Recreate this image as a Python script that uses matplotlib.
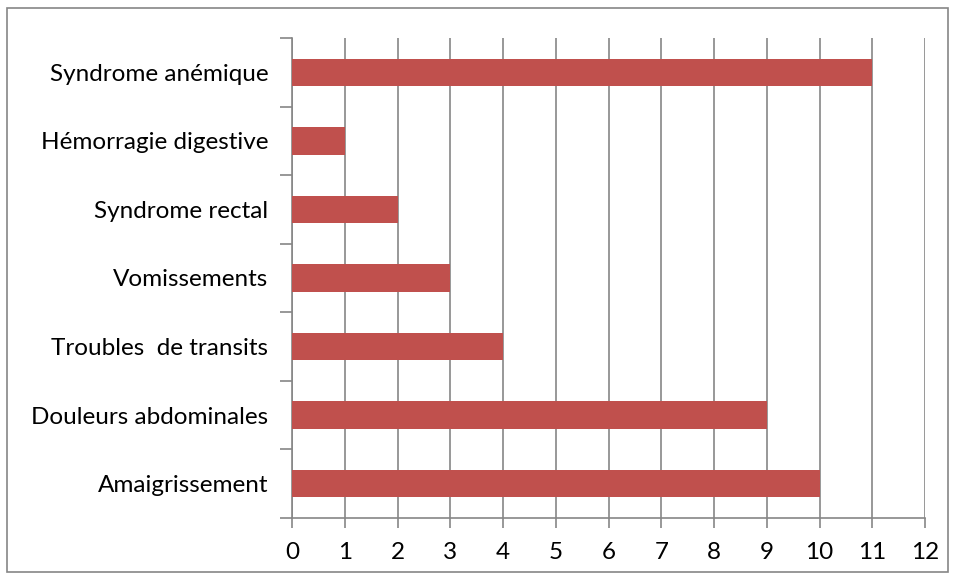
import matplotlib
matplotlib.use("Agg")
import matplotlib.pyplot as plt
from matplotlib.patches import Rectangle

categories = ["Amaigrissement", "Douleurs abdominales", "Troubles  de transits",
              "Vomissements", "Syndrome rectal", "Hémorragie digestive",
              "Syndrome anémique"]
values = [10, 9, 4, 3, 2, 1, 11]

plt.rcParams['font.family'] = ['Lato', 'DejaVu Sans']
grey = '#868686'

fig = plt.figure(figsize=(9.56, 5.8), dpi=100)
ax = fig.add_axes([292/956, 1 - 518/580, (925 - 292)/956, (518 - 38)/580])

pos = list(range(len(categories)))
ax.barh(pos, values, height=0.4, color='#C0504D', zorder=3)

ax.set_xlim(0, 12)
ax.set_ylim(-0.5, len(categories) - 0.5)
ax.set_xticks(range(0, 13))
ax.set_yticks(pos)
ax.set_yticklabels(categories)
ax.set_yticks([p - 0.5 for p in pos] + [len(categories) - 0.5], minor=True)
ax.tick_params(axis='y', which='major', length=0, pad=17, labelsize=17.5)
ax.tick_params(axis='y', which='minor', length=9, color=grey, width=1.2)
ax.tick_params(axis='x', length=7, color=grey, width=1.2, labelsize=17.5, pad=10)
ax.grid(axis='x', color=grey, linewidth=1.2, zorder=0)

for side in ['top', 'right']:
    ax.spines[side].set_visible(False)
for side in ['left', 'bottom']:
    ax.spines[side].set_color(grey)
    ax.spines[side].set_linewidth(1.2)

fig.patches.append(Rectangle((7/956, 8/580), 941/956, 564/580, transform=fig.transFigure,
                             fill=False, edgecolor=grey, linewidth=1.2))

fig.savefig("out.png", dpi=100)
